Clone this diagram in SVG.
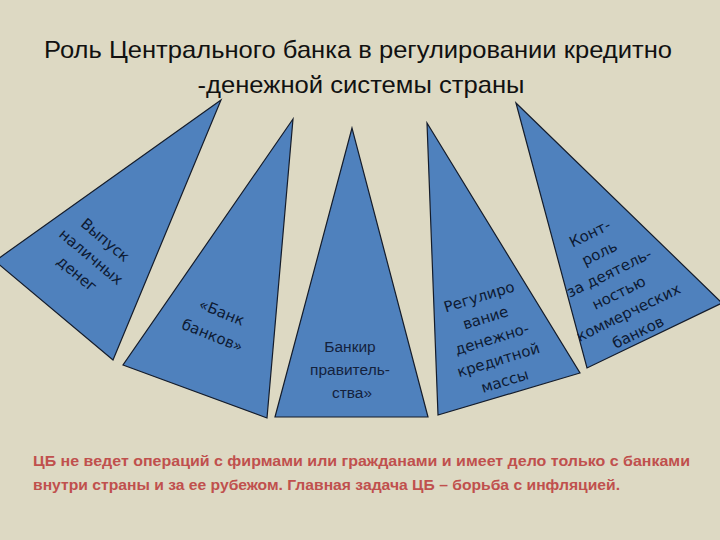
<svg xmlns="http://www.w3.org/2000/svg" width="720" height="540" viewBox="0 0 720 540">
  <style>
    .tri { fill: #4f81bd; stroke: #141c2b; stroke-width: 1.2; stroke-linejoin: miter; }
    .lbl { font-family: "DejaVu Sans", Verdana, sans-serif; font-size: 15px; fill: #0d1a33; text-anchor: middle; }
    .lbl2 { font-family: "Liberation Sans", Arial, sans-serif; font-size: 15.5px; fill: #14223d; text-anchor: middle; }
    .title { font-family: "Liberation Sans", Arial, sans-serif; font-size: 24px; fill: #111; text-anchor: middle; }
    .note { font-family: "Liberation Sans", Arial, sans-serif; font-size: 15px; font-weight: bold; fill: #c0504d; }
  </style>
  <rect x="0" y="0" width="720" height="540" fill="#ddd9c3"/>
  <g id="title">
    <text class="title" x="358" y="58" textLength="628" lengthAdjust="spacingAndGlyphs">Роль Центрального банка в регулировании кредитно</text>
    <text class="title" x="361" y="93" textLength="327" lengthAdjust="spacingAndGlyphs">-денежной системы страны</text>
  </g>
  <g id="connectors"></g>
  <g id="node1">
    <polygon class="tri" points="221,100 -5,261 113,360"/>
    <g transform="translate(91,257) rotate(40)">
      <text class="lbl" x="0" y="-17">Выпуск</text>
      <text class="lbl" x="0" y="5">наличных</text>
      <text class="lbl" x="0" y="27">денег</text>
    </g>
  </g>
  <g id="node2">
    <polygon class="tri" points="293,119 123,365 267,418"/>
    <g transform="translate(217,324) rotate(22)">
      <text class="lbl" x="0" y="-7.5">«Банк</text>
      <text class="lbl" x="0" y="17.5">банков»</text>
    </g>
  </g>
  <g id="node3">
    <polygon class="tri" points="352,128 275,417 428,417"/>
    <text class="lbl2" x="350" y="352">Банкир</text>
    <text class="lbl2" x="350" y="375">правитель-</text>
    <text class="lbl2" x="352" y="398">ства»</text>
  </g>
  <g id="node4">
    <polygon class="tri" points="427,123 438,415 580,373"/>
    <g transform="translate(492,339) rotate(-17)">
      <text class="lbl" x="0" y="-39">Регулиро</text>
      <text class="lbl" x="0" y="-17">вание</text>
      <text class="lbl" x="0" y="5">денежно-</text>
      <text class="lbl" x="0" y="27">кредитной</text>
      <text class="lbl" x="0" y="49">массы</text>
    </g>
  </g>
  <g id="node5">
    <polygon class="tri" points="516,103 587,368 722,303"/>
    <g transform="translate(614,283) rotate(-26)">
      <text class="lbl" x="0" y="-50">Конт-</text>
      <text class="lbl" x="0" y="-28">роль</text>
      <text class="lbl" x="0" y="-6">за деятель-</text>
      <text class="lbl" x="0" y="16">ностью</text>
      <text class="lbl" x="0" y="38">коммерческих</text>
      <text class="lbl" x="0" y="60">банков</text>
    </g>
  </g>
  <g id="note">
    <text class="note" x="33" y="466" textLength="657" lengthAdjust="spacingAndGlyphs">ЦБ не ведет операций с фирмами или гражданами и имеет дело только с банками</text>
    <text class="note" x="33" y="490" textLength="587" lengthAdjust="spacingAndGlyphs">внутри страны и за ее рубежом. Главная задача ЦБ – борьба с инфляцией.</text>
  </g>
</svg>
